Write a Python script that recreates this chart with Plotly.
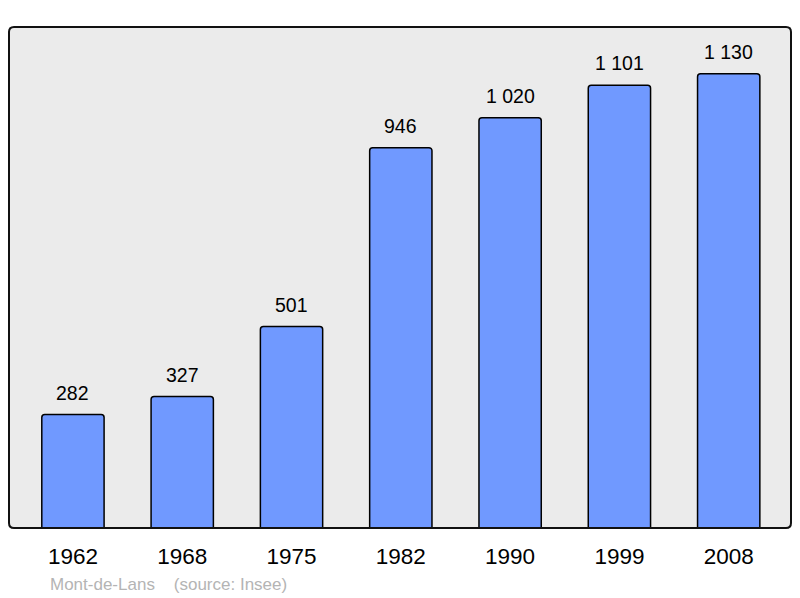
import plotly.graph_objects as go

years = ["1962", "1968", "1975", "1982", "1990", "1999", "2008"]
population = [282, 327, 501, 946, 1020, 1101, 1130]

def fmt(v):
    return f"{v:,}".replace(",", " ")

FONT = "Liberation Sans, Arial, sans-serif"

fig = go.Figure()
fig.add_trace(go.Bar(
    x=years, y=population,
    width=0.57,
    marker=dict(color="#7099ff", line=dict(color="#000000", width=1.5), cornerradius=3),
    hoverinfo="skip",
))

for i, v in enumerate(population):
    fig.add_annotation(x=i, y=v, text=fmt(v), showarrow=False,
                       xref="x", yref="y",
                       yanchor="bottom", yshift=9,
                       font=dict(family=FONT, size=19.5, color="#000000"))

PW, PH = 782, 501
fig.add_annotation(xref="paper", yref="paper", x=(48-9)/PW, y=-(584-528)/PH,
                   xanchor="left", yanchor="middle", showarrow=False,
                   text="Mont-de-Lans\u00a0\u00a0\u00a0\u00a0(source: Insee)",
                   font=dict(family=FONT, size=17, color="#b4b4b4"))

rx, ry = 5/PW, 5/PH
path = (f"M {rx},0 L {1-rx},0 Q 1,0 1,{ry} L 1,{1-ry} Q 1,1 {1-rx},1 "
        f"L {rx},1 Q 0,1 0,{1-ry} L 0,{ry} Q 0,0 {rx},0 Z")
fig.add_shape(type="path", path=path, xref="paper", yref="paper",
              line=dict(color="#111111", width=2), layer="above")

fig.update_layout(
    width=800, height=598,
    margin=dict(l=9, r=9, t=27, b=70),
    paper_bgcolor="#ffffff",
    plot_bgcolor="#ebebeb",
    showlegend=False,
    font=dict(family=FONT),
    xaxis=dict(type="category", range=[-0.585, 6.57], showgrid=False, zeroline=False, showline=False,
               ticks="outside", ticklen=8, tickcolor="rgba(0,0,0,0)",
               tickfont=dict(size=22.5, color="#000000")),
    yaxis=dict(range=[0, 1246], showgrid=False, zeroline=False, showline=False,
               showticklabels=False, ticks=""),
)

fig.write_html("out.html", config={"displayModeBar": False},
               post_script="document.body.style.margin='0';document.body.style.overflow='hidden';")
